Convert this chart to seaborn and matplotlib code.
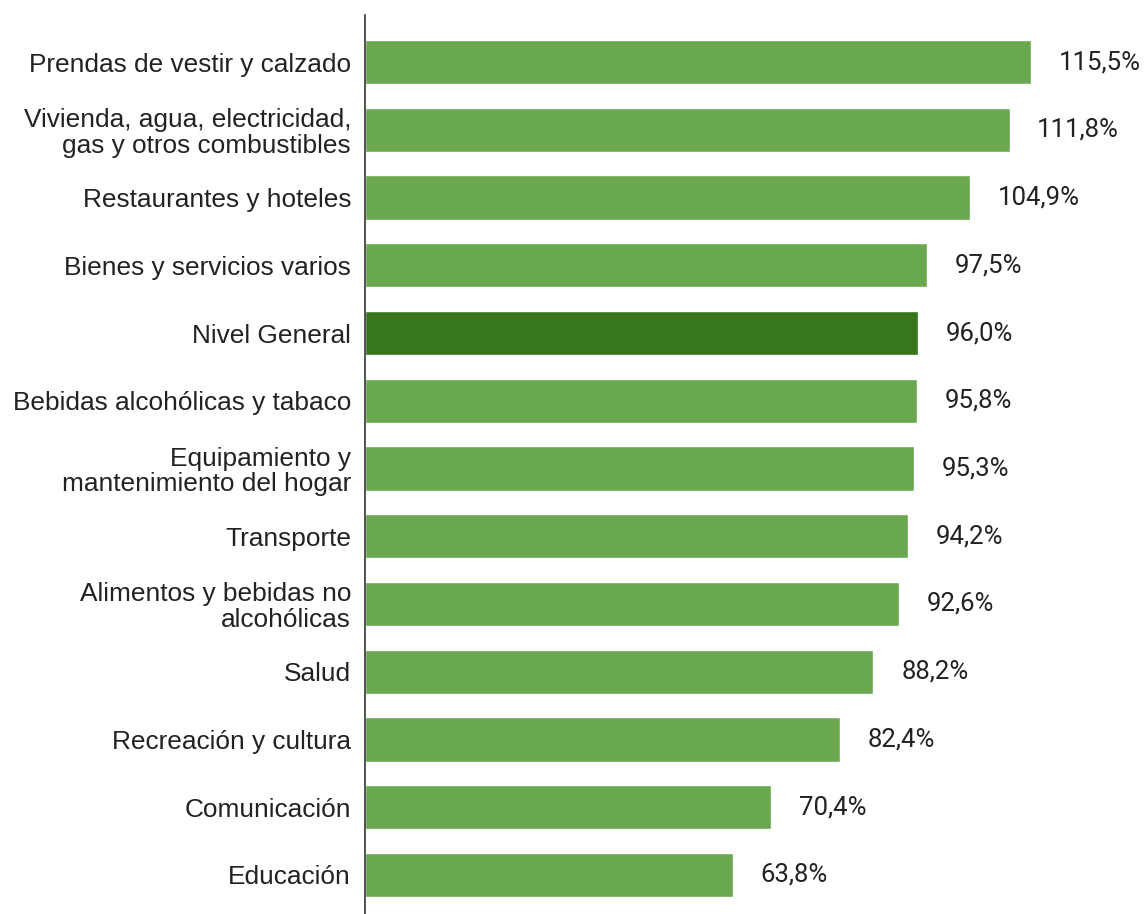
import matplotlib
matplotlib.use("Agg")
import matplotlib.pyplot as plt
import seaborn as sns
import pandas as pd

# Data
categories = [
    "Prendas de vestir y calzado",
    "Vivienda, agua, electricidad,\ngas y otros combustibles",
    "Restaurantes y hoteles",
    "Bienes y servicios varios",
    "Nivel General",
    "Bebidas alcohólicas y tabaco",
    "Equipamiento y\nmantenimiento del hogar",
    "Transporte",
    "Alimentos y bebidas no\nalcohólicas",
    "Salud",
    "Recreación y cultura",
    "Comunicación",
    "Educación",
]
values = [115.5, 111.8, 104.9, 97.5, 96.0, 95.8, 95.3, 94.2, 92.6, 88.2, 82.4, 70.4, 63.8]
highlight = "Nivel General"

light_green = "#6aa84f"
dark_green = "#38761d"

df = pd.DataFrame({"categoria": categories, "valor": values})
palette = {c: (dark_green if c == highlight else light_green) for c in categories}

sns.set_style("white")
plt.rcParams["font.family"] = ["Liberation Sans", "DejaVu Sans"]

fig = plt.figure(figsize=(11.45, 9.14), dpi=100)
ax = fig.add_axes([365 / 1145, 0.0, 780 / 1145, 899 / 914])

sns.barplot(data=df, x="valor", y="categoria", hue="categoria", palette=palette,
            order=categories, orient="h", width=0.65, legend=False,
            saturation=1, ax=ax)

ax.set_xlim(0, 135.3)
ax.set_ylim(12.576, -0.694)

# value labels with decimal comma
for cont, cat in zip(ax.containers, categories):
    val = df.loc[df["categoria"] == cat, "valor"].iloc[0]
    ax.bar_label(cont, labels=[f"{val:.1f}%".replace(".", ",")], padding=20,
                 fontsize=18.5, family="Roboto", color="#222222")

for s in ["top", "right", "bottom"]:
    ax.spines[s].set_visible(False)
ax.spines["left"].set_color("#333333")
ax.spines["left"].set_linewidth(1.2)
ax.set_xticks([])
ax.set_xlabel("")
ax.set_ylabel("")
ax.tick_params(axis="y", length=0, pad=10, labelsize=18.9, labelcolor="#222222")
for t in ax.get_yticklabels():
    t.set_linespacing(1.07)

fig.savefig("out.png", dpi=100)
